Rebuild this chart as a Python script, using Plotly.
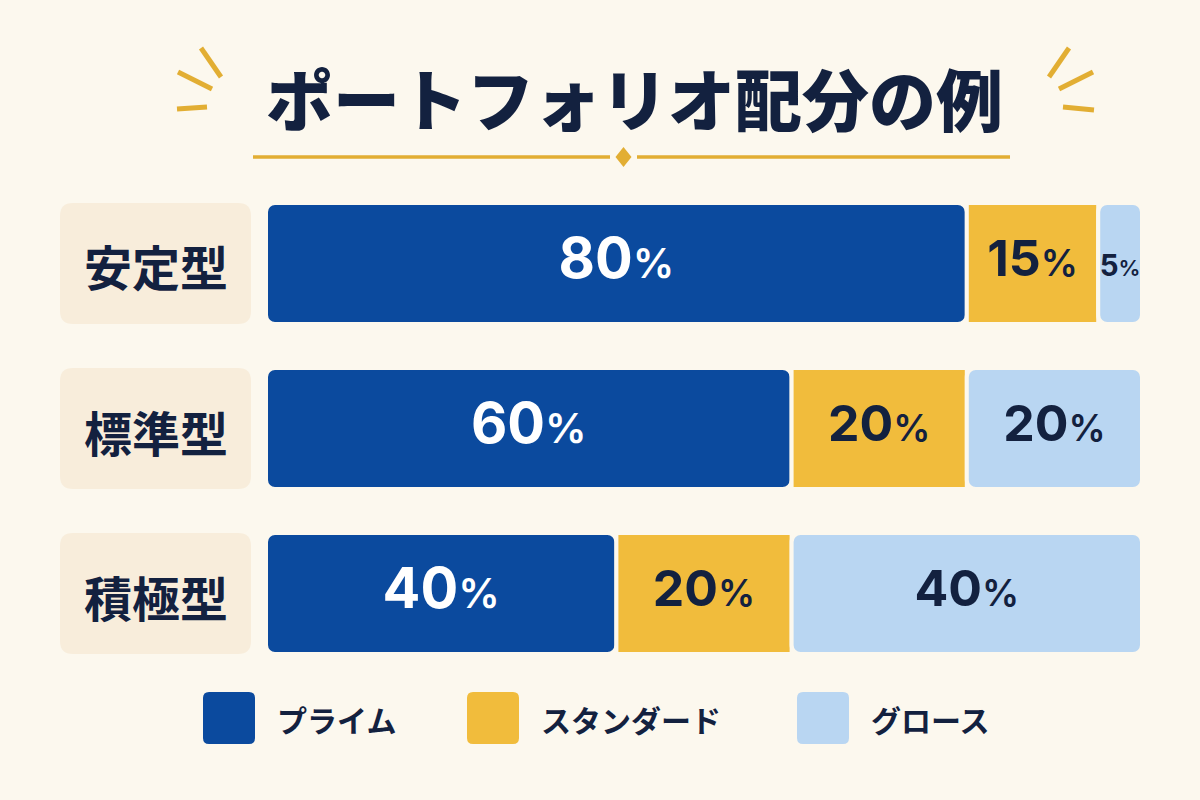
import plotly.graph_objects as go

# ---------------- data ----------------
categories = ["安定型", "標準型", "積極型"]
series_names = ["プライム", "スタンダード", "グロース"]
prime = [80, 60, 40]
standard = [15, 20, 20]
growth = [5, 20, 40]
title_text = "ポートフォリオ配分の例"

# ---------------- style ----------------
BG = "#FCF8EE"
COLORS = ["#0B4A9E", "#F1BC3C", "#B9D6F2"]
TEXT_COLORS = ["#FFFFFF", "#13213F", "#13213F"]
NUM_SIZES = [56, 50, 50]
PCT_RATIO = 0.74
NAVY = "#13213F"
GOLD = "#E2AE33"
LABEL_BOX = "#F8EDDB"
JP = "Noto Sans CJK JP"
NUM = "Inter"

W, H = 1200, 800
X0, X1 = 266, 1142          # bar area (pixels)
Y_TOP, Y_BOT = 181, 676     # category band area (pixels)
PITCH = (Y_BOT - Y_TOP) / len(categories)
BAR_H = 121
BARGAP = 1 - BAR_H / PITCH


def px(x):
    return x / W


def py(y):
    return 1 - y / H


def rrect_path(x0, y0, x1, y1, r):
    pts = lambda x, y: f"{px(x):.5f},{py(y):.5f}"
    return (
        f"M {pts(x0 + r, y0)} L {pts(x1 - r, y0)} Q {pts(x1, y0)} {pts(x1, y0 + r)} "
        f"L {pts(x1, y1 - r)} Q {pts(x1, y1)} {pts(x1 - r, y1)} "
        f"L {pts(x0 + r, y1)} Q {pts(x0, y1)} {pts(x0, y1 - r)} "
        f"L {pts(x0, y0 + r)} Q {pts(x0, y0)} {pts(x0 + r, y0)} Z"
    )


def fitted_size(v, base_size):
    # shrink the label if it would not fit inside its segment
    seg_px = v / 100 * (X1 - X0) - 8
    est = 0.62 * base_size * len(str(v)) + 0.8 * base_size * PCT_RATIO
    return base_size * min(1.0, seg_px / est)


def pct_label(v, size):
    return (f"<span style='font-size:{size:.1f}px'>{v}</span>"
            f"<span style='font-size:{size * PCT_RATIO:.1f}px;font-weight:600'>%</span>")


fig = go.Figure()

values = [prime, standard, growth]
lefts = [[0] * len(prime), prime, [p + s for p, s in zip(prime, standard)]]
rights = [[l + v for l, v in zip(lefts[i], values[i])] for i in range(3)]
radii = [9, 0, 9]

for i, name in enumerate(series_names):
    if i == 0:
        # drawn from its right edge back to 0 so the rounded end sits at the left
        base, length = rights[i], [-v for v in values[i]]
    else:
        base, length = lefts[i], values[i]
    fig.add_trace(
        go.Bar(
            name=name,
            y=categories,
            x=length,
            base=base,
            orientation="h",
            marker=dict(
                color=COLORS[i],
                cornerradius=radii[i],
                line=dict(color=BG, width=4),
            ),
            customdata=values[i],
            hovertemplate="%{y} " + name + ": %{customdata}%<extra></extra>",
            showlegend=False,
        )
    )

# value labels at segment centres (through the axes)
for i, name in enumerate(series_names):
    mids = [l + v / 2 for l, v in zip(lefts[i], values[i])]
    fig.add_trace(
        go.Scatter(
            x=mids,
            y=categories,
            mode="text",
            text=[pct_label(v, fitted_size(v, NUM_SIZES[i])) for v in values[i]],
            textposition="middle center",
            textfont=dict(family=NUM, size=NUM_SIZES[i], color=TEXT_COLORS[i], weight=700),
            cliponaxis=False,
            hoverinfo="skip",
            showlegend=False,
        )
    )

shapes = []
annotations = []

# category label boxes + labels
for i, cat in enumerate(categories):
    cy = Y_TOP + (i + 0.5) * PITCH
    shapes.append(dict(
        type="path", xref="paper", yref="paper", layer="below",
        path=rrect_path(60, cy - BAR_H / 2, 251, cy + BAR_H / 2, 13),
        fillcolor=LABEL_BOX, line=dict(width=0),
    ))
    annotations.append(dict(
        x=px(156), y=py(cy + 2), xref="paper", yref="paper",
        text=cat, showarrow=False, xanchor="center", yanchor="middle",
        font=dict(family=JP, size=48, color=NAVY, weight=700),
    ))

# title
annotations.append(dict(
    x=px(634), y=py(97), xref="paper", yref="paper",
    text=title_text, showarrow=False, xanchor="center", yanchor="middle",
    font=dict(family=JP, size=67, color=NAVY, weight=900),
))

# divider lines + diamond
for (a, b) in [(253, 610), (637, 1010)]:
    shapes.append(dict(type="line", xref="paper", yref="paper",
                       x0=px(a), x1=px(b), y0=py(157), y1=py(157),
                       line=dict(color=GOLD, width=3.5)))
dx, dy, cx, cy = 8, 10, 623.5, 157
shapes.append(dict(
    type="path", xref="paper", yref="paper",
    path=(f"M {px(cx):.5f},{py(cy - dy):.5f} L {px(cx + dx):.5f},{py(cy):.5f} "
          f"L {px(cx):.5f},{py(cy + dy):.5f} L {px(cx - dx):.5f},{py(cy):.5f} Z"),
    fillcolor=GOLD, line=dict(width=0),
))

# sparkles
sparks = [
    ((201, 48), (221, 77)), ((178, 72), (212, 89)), ((177, 109), (207, 107)),
    ((1069, 48), (1049, 77)), ((1059, 89), (1093, 72)), ((1063, 107), (1094, 110)),
]
for (a, b) in sparks:
    shapes.append(dict(type="line", xref="paper", yref="paper",
                       x0=px(a[0]), y0=py(a[1]), x1=px(b[0]), y1=py(b[1]),
                       line=dict(color=GOLD, width=5)))

# custom legend
legend_sq_x = [203, 467, 797]
LEG_Y0, LEG_Y1 = 692, 744
for i, name in enumerate(series_names):
    x0 = legend_sq_x[i]
    shapes.append(dict(
        type="path", xref="paper", yref="paper",
        path=rrect_path(x0, LEG_Y0, x0 + 52, LEG_Y1, 6),
        fillcolor=COLORS[i], line=dict(width=0),
    ))
    annotations.append(dict(
        x=px(x0 + 72), y=py((LEG_Y0 + LEG_Y1) / 2 + 1), xref="paper", yref="paper",
        text=name, showarrow=False, xanchor="left", yanchor="middle",
        font=dict(family=JP, size=30, color=NAVY, weight=700),
    ))

fig.update_layout(
    width=W, height=H,
    margin=dict(l=0, r=0, t=0, b=0),
    paper_bgcolor=BG, plot_bgcolor="rgba(0,0,0,0)",
    barmode="overlay",
    bargap=BARGAP,
    xaxis=dict(domain=[px(X0), px(X1)], range=[0, 100], visible=False, fixedrange=True),
    yaxis=dict(domain=[py(Y_BOT), py(Y_TOP)], type="category",
               categoryorder="array", categoryarray=categories,
               range=[len(categories) - 0.5, -0.5], visible=False, fixedrange=True),
    shapes=shapes,
    annotations=annotations,
    showlegend=False,
)

fig.write_html("out.html")
